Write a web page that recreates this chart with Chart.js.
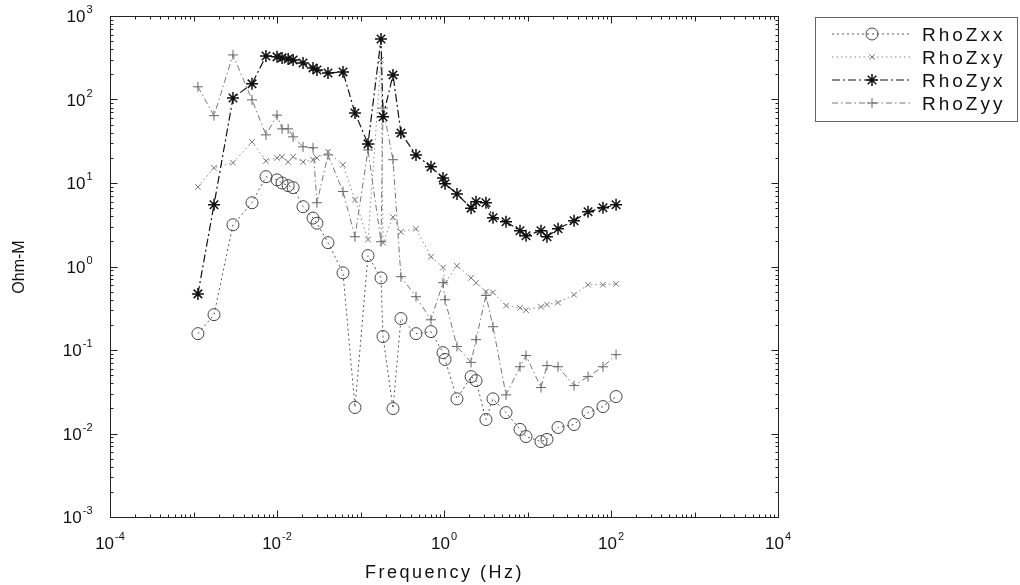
<!DOCTYPE html>
<html>
<head>
<meta charset="utf-8">
<title>Apparent resistivity</title>
<script src="https://cdn.jsdelivr.net/npm/chart.js@4.4.1/dist/chart.umd.min.js"></script>
<style>
  html, body { margin: 0; padding: 0; background: #fff; }
  #wrap { position: relative; width: 1020px; height: 585px; }
</style>
</head>
<body>
<div id="wrap"><canvas id="rhoChart" width="1020" height="585"></canvas></div>
<script>
// Frequencies (Hz), shared by all four components
const freq = [0.00113, 0.00176, 0.00297, 0.00502, 0.00738, 0.0100, 0.0115, 0.0136, 0.0156, 0.0205,
  0.0270, 0.0301, 0.0408, 0.0617, 0.0859, 0.123, 0.176, 0.186, 0.245, 0.305,
  0.462, 0.698, 0.973, 1.03, 1.43, 2.11, 2.42, 3.18, 3.86, 5.53,
  8.13, 9.6, 14.5, 17.1, 23.2, 36.1, 53.1, 80.2, 115];

// Apparent resistivity (Ohm-m)
const rhoZxx = [0.157, 0.265, 3.16, 5.8, 11.9, 10.9, 10.0, 9.3, 8.8, 5.2,
  3.8, 3.3, 1.93, 0.84, 0.0205, 1.35, 0.73, 0.145, 0.0199, 0.238,
  0.157, 0.166, 0.093, 0.077, 0.026, 0.048, 0.043, 0.0147, 0.026, 0.0178,
  0.0112, 0.0092, 0.0080, 0.0085, 0.0118, 0.0128, 0.0178, 0.021, 0.0277];
const rhoZxy = [9.0, 15.2, 17.5, 31.1, 18.4, 20.0, 20.6, 17.9, 20.6, 17.9,
  19.0, 20.0, 23.6, 16.5, 6.3, 2.1, 298, 1.93, 3.9, 2.6,
  2.83, 1.31, 0.97, 0.64, 1.02, 0.73, 0.64, 0.50, 0.49, 0.34,
  0.32, 0.30, 0.33, 0.35, 0.37, 0.46, 0.605, 0.605, 0.62];
const rhoZyx = [0.47, 5.5, 104, 154, 332, 324, 315, 306, 298, 274,
  239, 226, 208, 214, 69, 29.4, 531, 62, 197, 39.8,
  21.7, 15.6, 11.5, 9.8, 7.4, 5.0, 5.96, 5.8, 3.84, 3.43,
  2.68, 2.34, 2.68, 2.27, 2.83, 3.53, 4.52, 5.05, 5.48];
const rhoZyy = [142, 64, 342, 99, 37.7, 65, 44.5, 44.5, 35.7, 27.1,
  26.4, 5.8, 21.7, 7.9, 2.27, 24.9, 1.98, 79, 19, 0.755,
  0.435, 0.23, 0.64, 0.40, 0.11, 0.071, 0.133, 0.45, 0.19, 0.029,
  0.063, 0.086, 0.0355, 0.065, 0.063, 0.0375, 0.048, 0.063, 0.088];

const seriesNames = ['RhoZxx', 'RhoZxy', 'RhoZyx', 'RhoZyy'];
const xTicks = [1e-4, 1e-2, 1e0, 1e2, 1e4];
const yTicks = [1e-3, 1e-2, 1e-1, 1e0, 1e1, 1e2, 1e3];

const FONT = '"Liberation Sans", Arial, sans-serif';
const NARROW = '"Liberation Sans Narrow", "Liberation Sans", Arial, sans-serif';

const toPoints = vals => vals.map((v, i) => ({ x: freq[i], y: v }));

// line / marker look of each component
const looks = [
  { color: '#555', dash: [2, 3], width: 1, point: 'circle', r: 6, pc: '#444', pw: 1 },
  { color: '#8a8a8a', dash: [1.5, 3], width: 1, point: 'crossRot', r: 4, pc: '#777', pw: 1 },
  { color: '#111', dash: [8, 3, 2, 3], width: 1.2, point: 'star', r: 6, pc: '#111', pw: 1.5 },
  { color: '#777', dash: [6, 3, 1.5, 3], width: 1, point: 'cross', r: 5, pc: '#666', pw: 1 }
];

const datasets = [rhoZxx, rhoZxy, rhoZyx, rhoZyy].map((vals, i) => ({
  label: seriesNames[i],
  data: toPoints(vals),
  borderColor: looks[i].color,
  borderDash: looks[i].dash,
  borderWidth: looks[i].width,
  pointStyle: looks[i].point,
  pointRadius: looks[i].r,
  pointBorderColor: looks[i].pc,
  pointBorderWidth: looks[i].pw,
  pointBackgroundColor: 'rgba(0,0,0,0)',
  tension: 0,
  fill: false,
  order: i === 2 ? 0 : 1
}));

function drawMarker(ctx, look, x, y) {
  ctx.save();
  ctx.setLineDash([]);
  ctx.strokeStyle = look.pc;
  ctx.fillStyle = 'rgba(0,0,0,0)';
  ctx.lineWidth = look.pw;
  Chart.helpers.drawPoint(ctx, { pointStyle: look.point, radius: look.r, rotation: 0, borderWidth: look.pw }, x, y);
  ctx.restore();
}

// "10" with a raised exponent
function powLabel(ctx, value, x, y, align) {
  const base = '10', sup = String(Math.round(Math.log10(value)));
  ctx.font = '17px ' + FONT;
  const wb = ctx.measureText(base).width;
  ctx.font = '11px ' + FONT;
  const ws = ctx.measureText(sup).width;
  const w = wb + 1 + ws;
  const x0 = align === 'right' ? x - w : x - w / 2;
  ctx.textAlign = 'left';
  ctx.textBaseline = 'alphabetic';
  ctx.font = '17px ' + FONT;
  ctx.fillText(base, x0, y);
  ctx.font = '11px ' + FONT;
  ctx.fillText(sup, x0 + wb + 1, y - 9);
}

const matlabAxes = {
  id: 'matlabAxes',
  afterDraw(chart) {
    const ctx = chart.ctx, xs = chart.scales.x, ys = chart.scales.y;
    const a = chart.chartArea;
    const L = Math.round(a.left) + 0.5, R = Math.round(a.right) + 0.5;
    const T = Math.round(a.top) + 0.5, B = Math.round(a.bottom) + 0.5;
    ctx.save();
    ctx.setLineDash([]);
    ctx.strokeStyle = '#222';
    ctx.lineWidth = 1;
    ctx.strokeRect(L, T, R - L, B - T);

    // inward ticks on all four sides
    ctx.beginPath();
    const xd0 = Math.log10(xTicks[0]), xd1 = Math.log10(xTicks[xTicks.length - 1]);
    for (let d = xd0; d <= xd1; d++) {
      for (let m = 1; m < 10; m++) {
        const v = m * Math.pow(10, d);
        if (v > xTicks[xTicks.length - 1] * 1.0001) break;
        const px = Math.round(xs.getPixelForValue(v)) + 0.5;
        const len = m === 1 ? (d % 2 === 0 ? 7 : 5) : 3;
        ctx.moveTo(px, B); ctx.lineTo(px, B - len);
        ctx.moveTo(px, T); ctx.lineTo(px, T + len);
      }
    }
    const yd0 = Math.log10(yTicks[0]), yd1 = Math.log10(yTicks[yTicks.length - 1]);
    for (let d = yd0; d <= yd1; d++) {
      for (let m = 1; m < 10; m++) {
        const v = m * Math.pow(10, d);
        if (v > yTicks[yTicks.length - 1] * 1.0001) break;
        const py = Math.round(ys.getPixelForValue(v)) + 0.5;
        const len = m === 1 ? 7 : 3;
        ctx.moveTo(L, py); ctx.lineTo(L + len, py);
        ctx.moveTo(R, py); ctx.lineTo(R - len, py);
      }
    }
    ctx.stroke();

    // tick labels
    ctx.fillStyle = '#111';
    xTicks.forEach(v => powLabel(ctx, v, xs.getPixelForValue(v), B + 31, 'center'));
    yTicks.forEach(v => powLabel(ctx, v, L - 18, ys.getPixelForValue(v) + 6, 'right'));

    // axis titles
    ctx.font = '18px ' + NARROW;
    ctx.textAlign = 'center';
    ctx.letterSpacing = '2.5px';
    ctx.fillText('Frequency (Hz)', (L + R) / 2, B + 60);
    ctx.letterSpacing = '0px';
    ctx.save();
    ctx.translate(24, (T + B) / 2);
    ctx.rotate(-Math.PI / 2);
    ctx.font = '16px ' + NARROW;
    ctx.fillText('Ohm-M', 0, 0);
    ctx.restore();

    // legend box
    const lx = 815.5, ly = 17.5, lw = 202, lh = 104;
    ctx.strokeStyle = '#666';
    ctx.strokeRect(lx, ly, lw, lh);
    const rows = [34, 57, 80, 103];
    seriesNames.forEach((name, i) => {
      const look = looks[i], y = rows[i];
      ctx.save();
      ctx.strokeStyle = look.color;
      ctx.lineWidth = look.width;
      ctx.setLineDash(look.dash);
      ctx.beginPath();
      ctx.moveTo(832, y); ctx.lineTo(912, y);
      ctx.stroke();
      ctx.restore();
      drawMarker(ctx, look, 872, y);
      ctx.fillStyle = '#111';
      ctx.font = '19px ' + NARROW;
      ctx.textAlign = 'left';
      ctx.letterSpacing = '3px';
      ctx.fillText(name, 922, y + 7);
      ctx.letterSpacing = '0px';
    });
    ctx.restore();
  }
};

new Chart(document.getElementById('rhoChart'), {
  type: 'line',
  data: { datasets },
  options: {
    responsive: false,
    animation: false,
    devicePixelRatio: 1,
    events: [],
    layout: { padding: { left: 110, top: 16, right: 242, bottom: 68 } },
    scales: {
      x: { type: 'logarithmic', min: xTicks[0], max: xTicks[xTicks.length - 1], display: false },
      y: { type: 'logarithmic', min: yTicks[0], max: yTicks[yTicks.length - 1], display: false }
    },
    plugins: { legend: { display: false }, tooltip: { enabled: false } }
  },
  plugins: [matlabAxes]
});
</script>
</body>
</html>
